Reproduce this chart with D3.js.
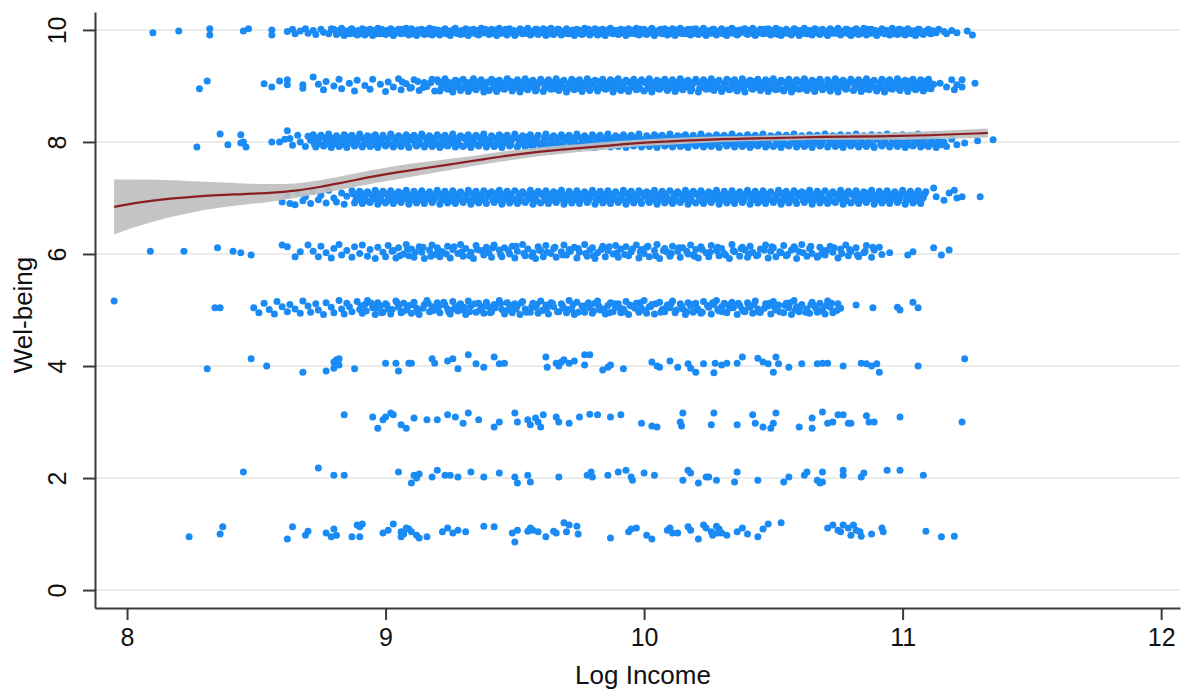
<!DOCTYPE html>
<html>
<head>
<meta charset="utf-8">
<script src="https://cdn.jsdelivr.net/npm/d3@7"></script>
<style>
  html, body { margin: 0; padding: 0; background: #ffffff; }
  svg { display: block; }
  text { font-family: "Liberation Sans", Arial, Helvetica, sans-serif; fill: #111; }
</style>
</head>
<body>
<svg id="chart" width="1183" height="689"></svg>
<script>
// ---------- DATA (log income, well-being with jitter) ----------
const xTicks = [8, 9, 10, 11, 12];
const yTicks = [0, 2, 4, 6, 8, 10];
const xLabel = "Log Income";
const yLabel = "Wel-being";

const wb10 = [8.10,9.95,8.20,9.98,8.32,10.02,8.32,9.91,8.45,9.98,8.47,10.02,8.56,10.0,8.56,9.91,
8.62,9.97,8.64,10.01,8.65,9.93,8.67,9.98,8.69,10.02,8.70,9.94,8.72,9.99,8.73,9.92,8.75,10.01,8.76,9.96,8.78,9.93,8.79,10.02,
8.80,10.01,8.81,9.92,8.82,9.96,8.83,10.03,8.84,9.90,8.85,9.97,8.86,9.93,8.87,10.02,8.88,9.95,8.89,9.91,
8.90,9.97,8.91,10.02,8.92,9.91,8.93,9.95,8.94,10.01,8.95,9.90,8.96,9.98,8.97,10.03,8.98,9.93,8.99,9.96,
9.00,9.92,9.01,9.99,9.02,10.02,9.03,9.90,9.04,9.95,9.05,10.01,9.06,9.93,9.07,9.97,9.08,10.03,9.09,9.91,
9.10,10.02,9.11,9.94,9.12,9.90,9.13,9.98,9.14,10.01,9.15,9.92,9.16,9.96,9.17,10.03,9.18,9.91,9.19,9.95,
9.20,10.00,9.21,9.91,9.22,9.97,9.23,10.02,9.24,9.93,9.25,9.90,9.26,9.99,9.27,10.03,9.28,9.94,9.29,9.92,
9.30,9.96,9.31,10.02,9.32,9.90,9.33,9.97,9.34,10.01,9.35,9.93,9.36,9.91,9.37,10.03,9.38,9.95,9.39,9.98,
9.40,9.92,9.41,10.01,9.42,9.96,9.43,9.90,9.44,10.03,9.45,9.94,9.46,9.98,9.47,9.91,9.48,10.02,9.49,9.95,
9.50,9.90,9.51,9.97,9.52,10.02,9.53,9.93,9.54,9.99,9.55,10.03,9.56,9.91,9.57,9.95,9.58,10.01,9.59,9.92,
9.60,9.97,9.61,10.02,9.62,9.90,9.63,9.96,9.64,10.03,9.65,9.92,9.66,9.98,9.67,10.01,9.68,9.91,9.69,9.94,
9.70,10.02,9.71,9.93,9.72,9.97,9.73,9.90,9.74,10.01,9.75,9.95,9.76,9.92,9.77,10.03,9.78,9.96,9.79,9.91,
9.80,9.98,9.81,10.02,9.82,9.91,9.83,9.95,9.84,10.01,9.85,9.90,9.86,9.97,9.87,10.03,9.88,9.93,9.89,9.99,
9.90,9.92,9.91,10.01,9.92,9.96,9.93,9.90,9.94,10.02,9.95,9.94,9.96,9.98,9.97,10.03,9.98,9.91,9.99,9.96,
10.00,10.01,10.01,9.92,10.02,9.97,10.03,10.03,10.04,9.90,10.05,9.95,10.06,10.00,10.07,9.93,10.08,10.02,10.09,9.91,
10.10,9.96,10.11,10.02,10.12,9.90,10.13,9.98,10.14,10.03,10.15,9.93,10.16,9.95,10.17,10.01,10.18,9.91,10.19,9.97,
10.20,10.02,10.21,9.92,10.22,9.96,10.23,10.03,10.24,9.90,10.25,9.98,10.26,9.94,10.27,10.01,10.28,9.91,10.29,9.96,
10.30,10.02,10.31,9.93,10.32,9.90,10.33,9.97,10.34,10.03,10.35,9.95,10.36,9.91,10.37,10.00,10.38,9.96,10.39,10.02,
10.40,9.92,10.41,9.98,10.42,10.03,10.43,9.90,10.44,9.95,10.45,10.01,10.46,9.93,10.47,9.97,10.48,10.02,10.49,9.91,
10.50,9.96,10.51,10.03,10.52,9.92,10.53,9.90,10.54,9.98,10.55,10.01,10.56,9.94,10.57,9.91,10.58,10.02,10.59,9.96,
10.60,9.90,10.61,9.97,10.62,10.03,10.63,9.93,10.64,9.99,10.65,9.91,10.66,10.02,10.67,9.95,10.68,9.92,10.69,10.01,
10.70,9.96,10.71,9.90,10.72,10.02,10.73,9.94,10.74,9.98,10.75,10.03,10.76,9.91,10.77,9.96,10.78,10.01,10.79,9.93,
10.80,9.90,10.81,9.97,10.82,10.02,10.83,9.92,10.84,9.95,10.85,10.03,10.86,9.91,10.87,9.98,10.88,10.01,10.89,9.94,
10.90,9.90,10.91,9.96,10.92,10.02,10.93,9.93,10.94,9.99,10.95,9.91,10.96,10.03,10.97,9.95,10.98,9.92,10.99,10.01,
11.00,9.97,11.01,9.91,11.02,10.02,11.03,9.94,11.04,9.98,11.05,9.90,11.06,10.01,11.07,9.95,11.08,9.92,11.09,9.97,
11.10,10.01,11.11,9.93,11.12,9.98,11.13,9.95,11.14,10.01,11.16,9.97,11.17,9.93,11.19,9.99,11.21,9.95,11.25,9.98,11.27,9.91];

const wb10b = [8.805,9.99,8.815,9.94,8.825,10.00,8.835,9.93,8.845,9.98,8.855,9.95,8.865,10.01,8.875,9.94,8.885,9.97,8.895,9.99,
8.905,9.93,8.915,9.98,8.925,10.00,8.935,9.95,8.945,9.94,8.955,9.99,8.965,9.93,8.975,9.97,8.985,10.01,8.995,9.94,
9.005,9.99,9.015,9.94,9.025,10.00,9.035,9.93,9.045,9.98,9.055,9.95,9.065,10.01,9.075,9.94,9.085,9.97,9.095,9.99,
9.105,9.93,9.115,9.98,9.125,10.00,9.135,9.95,9.145,9.94,9.155,9.99,9.165,9.93,9.175,9.97,9.185,10.01,9.195,9.94,
9.205,9.99,9.215,9.94,9.225,10.00,9.235,9.93,9.245,9.98,9.255,9.95,9.265,10.01,9.275,9.94,9.285,9.97,9.295,9.99,
9.305,9.93,9.315,9.98,9.325,10.00,9.335,9.95,9.345,9.94,9.355,9.99,9.365,9.93,9.375,9.97,9.385,10.01,9.395,9.94,
9.405,9.99,9.415,9.94,9.425,10.00,9.435,9.93,9.445,9.98,9.455,9.95,9.465,10.01,9.475,9.94,9.485,9.97,9.495,9.99,
9.505,9.93,9.515,9.98,9.525,10.00,9.535,9.95,9.545,9.94,9.555,9.99,9.565,9.93,9.575,9.97,9.585,10.01,9.595,9.94,
9.605,9.99,9.615,9.94,9.625,10.00,9.635,9.93,9.645,9.98,9.655,9.95,9.665,10.01,9.675,9.94,9.685,9.97,9.695,9.99,
9.705,9.93,9.715,9.98,9.725,10.00,9.735,9.95,9.745,9.94,9.755,9.99,9.765,9.93,9.775,9.97,9.785,10.01,9.795,9.94,
9.805,9.99,9.815,9.94,9.825,10.00,9.835,9.93,9.845,9.98,9.855,9.95,9.865,10.01,9.875,9.94,9.885,9.97,9.895,9.99,
9.905,9.93,9.915,9.98,9.925,10.00,9.935,9.95,9.945,9.94,9.955,9.99,9.965,9.93,9.975,9.97,9.985,10.01,9.995,9.94,
10.005,9.99,10.015,9.94,10.025,10.00,10.035,9.93,10.045,9.98,10.055,9.95,10.065,10.01,10.075,9.94,10.085,9.97,10.095,9.99,
10.105,9.93,10.115,9.98,10.125,10.00,10.135,9.95,10.145,9.94,10.155,9.99,10.165,9.93,10.175,9.97,10.185,10.01,10.195,9.94,
10.205,9.99,10.215,9.94,10.225,10.00,10.235,9.93,10.245,9.98,10.255,9.95,10.265,10.01,10.275,9.94,10.285,9.97,10.295,9.99,
10.305,9.93,10.315,9.98,10.325,10.00,10.335,9.95,10.345,9.94,10.355,9.99,10.365,9.93,10.375,9.97,10.385,10.01,10.395,9.94,
10.405,9.99,10.415,9.94,10.425,10.00,10.435,9.93,10.445,9.98,10.455,9.95,10.465,10.01,10.475,9.94,10.485,9.97,10.495,9.99,
10.505,9.93,10.515,9.98,10.525,10.00,10.535,9.95,10.545,9.94,10.555,9.99,10.565,9.93,10.575,9.97,10.585,10.01,10.595,9.94,
10.605,9.99,10.615,9.94,10.625,10.00,10.635,9.93,10.645,9.98,10.655,9.95,10.665,10.01,10.675,9.94,10.685,9.97,10.695,9.99,
10.705,9.93,10.715,9.98,10.725,10.00,10.735,9.95,10.745,9.94,10.755,9.99,10.765,9.93,10.775,9.97,10.785,10.01,10.795,9.94,
10.805,9.99,10.815,9.94,10.825,10.00,10.835,9.93,10.845,9.98,10.855,9.95,10.865,10.01,10.875,9.94,10.885,9.97,10.895,9.99,
10.905,9.93,10.915,9.98,10.925,10.00,10.935,9.95,10.945,9.94,10.955,9.99,10.965,9.93,10.975,9.97,10.985,10.01,10.995,9.94,
11.005,9.99,11.015,9.94,11.025,10.00,11.035,9.93,11.045,9.98,11.055,9.95,11.065,10.01,11.075,9.94,11.085,9.97,11.095,9.99,
11.105,9.94,11.115,9.98];

const wb9 = [8.28,8.95,8.31,9.09,8.53,9.04,8.56,8.98,8.59,9.09,8.62,9.11,8.62,9.02,8.68,8.96,8.68,9.02,8.72,9.16,
8.74,9.03,8.76,8.93,8.77,9.08,8.80,9.00,8.82,9.12,8.83,8.95,8.86,9.05,8.88,8.91,8.89,9.10,8.92,9.01,8.94,8.94,8.95,9.12,
8.98,9.03,9.00,8.90,9.01,9.07,9.03,8.98,9.05,9.13,9.06,8.93,9.08,9.04,9.10,8.97,9.11,9.11,9.13,8.92,9.15,9.06,9.16,8.99,9.18,9.12,9.19,8.91,
9.20,9.11,9.21,8.91,9.22,9.02,9.23,9.13,9.24,8.94,9.25,9.04,9.26,8.89,9.27,9.10,9.28,9.00,9.29,8.92,
9.30,9.12,9.31,9.03,9.32,8.90,9.33,9.05,9.34,9.13,9.35,8.93,9.36,9.01,9.37,9.11,9.38,8.89,9.39,9.04,
9.40,8.92,9.41,9.12,9.42,9.00,9.43,8.90,9.44,9.10,9.45,9.03,9.46,8.94,9.47,9.13,9.48,9.01,9.49,8.91,
9.50,9.05,9.51,9.11,9.52,8.89,9.53,9.02,9.54,9.13,9.55,8.93,9.56,9.00,9.57,9.10,9.58,8.91,9.59,9.04,
9.60,9.12,9.61,8.90,9.62,9.03,9.63,9.11,9.64,8.94,9.65,9.01,9.66,9.13,9.67,8.92,9.68,9.05,9.69,9.10,
9.70,8.89,9.71,9.02,9.72,9.12,9.73,8.93,9.74,9.00,9.75,9.11,9.76,8.90,9.77,9.04,9.78,9.13,9.79,8.92,
9.80,9.03,9.81,9.10,9.82,8.91,9.83,9.05,9.84,9.12,9.85,8.94,9.86,9.01,9.87,9.11,9.88,8.89,9.89,9.02,
9.90,9.13,9.91,8.92,9.92,9.04,9.93,9.10,9.94,8.90,9.95,9.00,9.96,9.12,9.97,8.93,9.98,9.03,9.99,9.11,
10.00,8.91,10.01,9.05,10.02,9.13,10.03,8.89,10.04,9.01,10.05,9.10,10.06,8.94,10.07,9.02,10.08,9.12,10.09,8.92,
10.10,9.04,10.11,9.11,10.12,8.90,10.13,9.00,10.14,9.13,10.15,8.93,10.16,9.03,10.17,9.10,10.18,8.91,10.19,9.05,
10.20,9.12,10.21,8.89,10.22,9.01,10.23,9.11,10.24,8.94,10.25,9.02,10.26,9.13,10.27,8.92,10.28,9.04,10.29,9.10,
10.30,8.90,10.31,9.03,10.32,9.12,10.33,8.93,10.34,9.00,10.35,9.11,10.36,8.91,10.37,9.05,10.38,9.13,10.39,8.89,
10.40,9.02,10.41,9.10,10.42,8.94,10.43,9.04,10.44,9.12,10.45,8.92,10.46,9.01,10.47,9.11,10.48,8.90,10.49,9.03,
10.50,9.13,10.51,8.93,10.52,9.00,10.53,9.10,10.54,8.91,10.55,9.05,10.56,9.12,10.57,8.89,10.58,9.02,10.59,9.11,
10.60,8.94,10.61,9.04,10.62,9.13,10.63,8.92,10.64,9.01,10.65,9.10,10.66,8.90,10.67,9.03,10.68,9.12,10.69,8.93,
10.70,9.00,10.71,9.11,10.72,8.91,10.73,9.05,10.74,9.13,10.75,8.89,10.76,9.02,10.77,9.10,10.78,8.94,10.79,9.04,
10.80,9.12,10.81,8.92,10.82,9.01,10.83,9.11,10.84,8.90,10.85,9.03,10.86,9.13,10.87,8.93,10.88,9.00,10.89,9.10,
10.90,8.91,10.91,9.05,10.92,9.12,10.93,8.89,10.94,9.02,10.95,9.11,10.96,8.94,10.97,9.04,10.98,9.13,10.99,8.92,
11.00,9.01,11.01,9.10,11.02,8.90,11.03,9.03,11.04,9.12,11.05,8.93,11.06,9.00,11.07,9.11,11.08,8.91,11.09,9.05,
11.10,9.12,11.11,8.95,11.12,9.03,11.145,9.05,11.17,8.98,11.19,9.11,11.20,8.93,11.21,9.02,11.23,8.98,11.23,9.11,11.28,9.05];

const wb9b = [9.065,9.07,9.095,8.96,9.125,9.08,9.145,8.97,9.175,9.06,
9.205,9.07,9.215,8.96,9.225,9.08,9.235,8.97,9.245,9.06,9.255,8.95,9.265,9.07,9.275,8.98,9.285,9.08,9.295,8.96,
9.305,8.97,9.315,9.06,9.325,8.95,9.335,9.08,9.345,8.96,9.355,9.07,9.365,8.98,9.375,9.06,9.385,8.95,9.395,9.07,
9.405,9.07,9.415,8.96,9.425,9.08,9.435,8.97,9.445,9.06,9.455,8.95,9.465,9.07,9.475,8.98,9.485,9.08,9.495,8.96,
9.505,8.97,9.515,9.06,9.525,8.95,9.535,9.08,9.545,8.96,9.555,9.07,9.565,8.98,9.575,9.06,9.585,8.95,9.595,9.07,
9.605,9.07,9.615,8.96,9.625,9.08,9.635,8.97,9.645,9.06,9.655,8.95,9.665,9.07,9.675,8.98,9.685,9.08,9.695,8.96,
9.705,8.97,9.715,9.06,9.725,8.95,9.735,9.08,9.745,8.96,9.755,9.07,9.765,8.98,9.775,9.06,9.785,8.95,9.795,9.07,
9.805,9.07,9.815,8.96,9.825,9.08,9.835,8.97,9.845,9.06,9.855,8.95,9.865,9.07,9.875,8.98,9.885,9.08,9.895,8.96,
9.905,8.97,9.915,9.06,9.925,8.95,9.935,9.08,9.945,8.96,9.955,9.07,9.965,8.98,9.975,9.06,9.985,8.95,9.995,9.07,
10.005,9.07,10.015,8.96,10.025,9.08,10.035,8.97,10.045,9.06,10.055,8.95,10.065,9.07,10.075,8.98,10.085,9.08,10.095,8.96,
10.105,8.97,10.115,9.06,10.125,8.95,10.135,9.08,10.145,8.96,10.155,9.07,10.165,8.98,10.175,9.06,10.185,8.95,10.195,9.07,
10.205,9.07,10.215,8.96,10.225,9.08,10.235,8.97,10.245,9.06,10.255,8.95,10.265,9.07,10.275,8.98,10.285,9.08,10.295,8.96,
10.305,8.97,10.315,9.06,10.325,8.95,10.335,9.08,10.345,8.96,10.355,9.07,10.365,8.98,10.375,9.06,10.385,8.95,10.395,9.07,
10.405,9.07,10.415,8.96,10.425,9.08,10.435,8.97,10.445,9.06,10.455,8.95,10.465,9.07,10.475,8.98,10.485,9.08,10.495,8.96,
10.505,8.97,10.515,9.06,10.525,8.95,10.535,9.08,10.545,8.96,10.555,9.07,10.565,8.98,10.575,9.06,10.585,8.95,10.595,9.07,
10.605,9.07,10.615,8.96,10.625,9.08,10.635,8.97,10.645,9.06,10.655,8.95,10.665,9.07,10.675,8.98,10.685,9.08,10.695,8.96,
10.705,8.97,10.715,9.06,10.725,8.95,10.735,9.08,10.745,8.96,10.755,9.07,10.765,8.98,10.775,9.06,10.785,8.95,10.795,9.07,
10.805,9.07,10.815,8.96,10.825,9.08,10.835,8.97,10.845,9.06,10.855,8.95,10.865,9.07,10.875,8.98,10.885,9.08,10.895,8.96,
10.905,8.97,10.915,9.06,10.925,8.95,10.935,9.08,10.945,8.96,10.955,9.07,10.965,8.98,10.975,9.06,10.985,8.95,10.995,9.07,
11.005,9.07,11.015,8.96,11.025,9.08,11.035,8.97,11.045,9.06,11.055,8.95,11.065,9.07,11.075,8.98,11.085,9.08,11.095,8.96,
11.105,9.06];

const wb8 = [8.27,7.91,8.36,8.14,8.39,7.95,8.44,8.13,8.45,8.00,8.46,7.91,8.44,7.98,8.56,8.00,8.59,8.00,8.61,8.05,8.62,8.20,
8.63,8.06,8.64,7.94,8.66,8.12,8.67,8.00,8.69,7.92,8.70,8.10,
8.71,8.03,8.72,8.13,8.73,7.91,8.74,8.05,8.75,8.12,8.76,7.93,8.77,8.01,8.78,8.14,8.79,7.90,
8.80,8.04,8.81,8.11,8.82,7.92,8.83,8.02,8.84,8.13,8.85,7.90,8.86,8.05,8.87,8.12,8.88,7.93,8.89,8.00,
8.90,8.14,8.91,7.91,8.92,8.03,8.93,8.11,8.94,7.92,8.95,8.04,8.96,8.13,8.97,7.90,8.98,8.01,8.99,8.12,
9.00,7.93,9.01,8.05,9.02,8.14,9.03,7.91,9.04,8.02,9.05,8.11,9.06,7.92,9.07,8.03,9.08,8.13,9.09,7.90,
9.10,8.04,9.11,8.12,9.12,7.93,9.13,8.00,9.14,8.14,9.15,7.91,9.16,8.05,9.17,8.11,9.18,7.92,9.19,8.02,
9.20,8.13,9.21,7.90,9.22,8.03,9.23,8.12,9.24,7.93,9.25,8.01,9.26,8.14,9.27,7.91,9.28,8.04,9.29,8.11,
9.30,7.92,9.31,8.05,9.32,8.13,9.33,7.90,9.34,8.02,9.35,8.12,9.36,7.93,9.37,8.00,9.38,8.14,9.39,7.91,
9.40,8.03,9.41,8.11,9.42,7.92,9.43,8.04,9.44,8.13,9.45,7.90,9.46,8.01,9.47,8.12,9.48,7.93,9.49,8.05,
9.50,8.14,9.51,7.91,9.52,8.02,9.53,8.11,9.54,7.92,9.55,8.03,9.56,8.13,9.57,7.90,9.58,8.04,9.59,8.12,
9.60,7.93,9.61,8.00,9.62,8.14,9.63,7.91,9.64,8.05,9.65,8.11,9.66,7.92,9.67,8.02,9.68,8.13,9.69,7.90,
9.70,8.03,9.71,8.12,9.72,7.93,9.73,8.01,9.74,8.14,9.75,7.91,9.76,8.04,9.77,8.11,9.78,7.92,9.79,8.05,
9.80,8.13,9.81,7.90,9.82,8.02,9.83,8.12,9.84,7.93,9.85,8.03,9.86,8.14,9.87,7.91,9.88,8.00,9.89,8.11,
9.90,7.92,9.91,8.04,9.92,8.13,9.93,7.90,9.94,8.01,9.95,8.12,9.96,7.93,9.97,8.05,9.98,8.14,9.99,7.91,
10.00,8.02,10.01,8.11,10.02,7.92,10.03,8.03,10.04,8.13,10.05,7.90,10.06,8.04,10.07,8.12,10.08,7.93,10.09,8.00,
10.10,8.14,10.11,7.91,10.12,8.05,10.13,8.11,10.14,7.92,10.15,8.02,10.16,8.13,10.17,7.90,10.18,8.03,10.19,8.12,
10.20,7.93,10.21,8.01,10.22,8.14,10.23,7.91,10.24,8.04,10.25,8.11,10.26,7.92,10.27,8.05,10.28,8.13,10.29,7.90,
10.30,8.02,10.31,8.12,10.32,7.93,10.33,8.03,10.34,8.14,10.35,7.91,10.36,8.00,10.37,8.11,10.38,7.92,10.39,8.04,
10.40,8.13,10.41,7.90,10.42,8.05,10.43,8.12,10.44,7.93,10.45,8.01,10.46,8.14,10.47,7.91,10.48,8.02,10.49,8.11,
10.50,7.92,10.51,8.03,10.52,8.13,10.53,7.90,10.54,8.04,10.55,8.12,10.56,7.93,10.57,8.00,10.58,8.14,10.59,7.91,
10.60,8.05,10.61,8.11,10.62,7.92,10.63,8.02,10.64,8.13,10.65,7.90,10.66,8.03,10.67,8.12,10.68,7.93,10.69,8.01,
10.70,8.14,10.71,7.91,10.72,8.04,10.73,8.11,10.74,7.92,10.75,8.05,10.76,8.13,10.77,7.90,10.78,8.02,10.79,8.12,
10.80,7.93,10.81,8.03,10.82,8.14,10.83,7.91,10.84,8.00,10.85,8.11,10.86,7.92,10.87,8.04,10.88,8.13,10.89,7.90,
10.90,8.05,10.91,8.12,10.92,7.93,10.93,8.01,10.94,8.14,10.95,7.91,10.96,8.02,10.97,8.11,10.98,7.92,10.99,8.03,
11.00,8.13,11.01,7.90,11.02,8.04,11.03,8.12,11.04,7.93,11.05,8.00,11.06,8.14,11.07,7.91,11.08,8.05,11.09,8.11,
11.10,7.92,11.11,8.02,11.12,8.13,11.13,7.90,11.14,8.03,11.15,7.95,11.16,8.00,11.17,7.92,11.19,8.05,11.21,7.95,
11.24,7.98,11.29,8.02,11.35,8.04];

const wb8b = [8.715,8.08,8.725,7.96,8.735,8.07,8.745,7.97,8.755,8.09,8.765,7.95,8.775,8.08,8.785,7.98,8.795,8.06,
8.805,7.97,8.815,8.08,8.825,7.95,8.835,8.07,8.845,7.96,8.855,8.09,8.865,7.98,8.875,8.06,8.885,7.95,8.895,8.08,
8.905,8.08,8.915,7.96,8.925,8.07,8.935,7.97,8.945,8.09,8.955,7.95,8.965,8.08,8.975,7.98,8.985,8.06,8.995,7.96,
9.005,7.97,9.015,8.08,9.025,7.95,9.035,8.07,9.045,7.96,9.055,8.09,9.065,7.98,9.075,8.06,9.085,7.95,9.095,8.08,
9.105,8.08,9.115,7.96,9.125,8.07,9.135,7.97,9.145,8.09,9.155,7.95,9.165,8.08,9.175,7.98,9.185,8.06,9.195,7.96,
9.205,7.97,9.215,8.08,9.225,7.95,9.235,8.07,9.245,7.96,9.255,8.09,9.265,7.98,9.275,8.06,9.285,7.95,9.295,8.08,
9.305,8.08,9.315,7.96,9.325,8.07,9.335,7.97,9.345,8.09,9.355,7.95,9.365,8.08,9.375,7.98,9.385,8.06,9.395,7.96,
9.405,7.97,9.415,8.08,9.425,7.95,9.435,8.07,9.445,7.96,9.455,8.09,9.465,7.98,9.475,8.06,9.485,7.95,9.495,8.08,
9.505,8.08,9.515,7.96,9.525,8.07,9.535,7.97,9.545,8.09,9.555,7.95,9.565,8.08,9.575,7.98,9.585,8.06,9.595,7.96,
9.605,7.97,9.615,8.08,9.625,7.95,9.635,8.07,9.645,7.96,9.655,8.09,9.665,7.98,9.675,8.06,9.685,7.95,9.695,8.08,
9.705,8.08,9.715,7.96,9.725,8.07,9.735,7.97,9.745,8.09,9.755,7.95,9.765,8.08,9.775,7.98,9.785,8.06,9.795,7.96,
9.805,7.97,9.815,8.08,9.825,7.95,9.835,8.07,9.845,7.96,9.855,8.09,9.865,7.98,9.875,8.06,9.885,7.95,9.895,8.08,
9.905,8.08,9.915,7.96,9.925,8.07,9.935,7.97,9.945,8.09,9.955,7.95,9.965,8.08,9.975,7.98,9.985,8.06,9.995,7.96,
10.005,7.97,10.015,8.08,10.025,7.95,10.035,8.07,10.045,7.96,10.055,8.09,10.065,7.98,10.075,8.06,10.085,7.95,10.095,8.08,
10.105,8.08,10.115,7.96,10.125,8.07,10.135,7.97,10.145,8.09,10.155,7.95,10.165,8.08,10.175,7.98,10.185,8.06,10.195,7.96,
10.205,7.97,10.215,8.08,10.225,7.95,10.235,8.07,10.245,7.96,10.255,8.09,10.265,7.98,10.275,8.06,10.285,7.95,10.295,8.08,
10.305,8.08,10.315,7.96,10.325,8.07,10.335,7.97,10.345,8.09,10.355,7.95,10.365,8.08,10.375,7.98,10.385,8.06,10.395,7.96,
10.405,7.97,10.415,8.08,10.425,7.95,10.435,8.07,10.445,7.96,10.455,8.09,10.465,7.98,10.475,8.06,10.485,7.95,10.495,8.08,
10.505,8.08,10.515,7.96,10.525,8.07,10.535,7.97,10.545,8.09,10.555,7.95,10.565,8.08,10.575,7.98,10.585,8.06,10.595,7.96,
10.605,7.97,10.615,8.08,10.625,7.95,10.635,8.07,10.645,7.96,10.655,8.09,10.665,7.98,10.675,8.06,10.685,7.95,10.695,8.08,
10.705,8.08,10.715,7.96,10.725,8.07,10.735,7.97,10.745,8.09,10.755,7.95,10.765,8.08,10.775,7.98,10.785,8.06,10.795,7.96,
10.805,7.97,10.815,8.08,10.825,7.95,10.835,8.07,10.845,7.96,10.855,8.09,10.865,7.98,10.875,8.06,10.885,7.95,10.895,8.08,
10.905,8.08,10.915,7.96,10.925,8.07,10.935,7.97,10.945,8.09,10.955,7.95,10.965,8.08,10.975,7.98,10.985,8.06,10.995,7.96,
11.005,7.97,11.015,8.08,11.025,7.95,11.035,8.07,11.045,7.96,11.055,8.09,11.065,7.98,11.075,8.06,11.085,7.95,11.095,8.08,
11.105,7.97,11.115,8.07,11.125,7.96];

const wb7 = [8.60,6.93,8.62,7.05,8.63,6.90,8.65,6.88,8.66,7.10,8.68,6.95,8.69,7.02,8.71,6.90,8.72,7.12,8.74,6.97,
8.75,7.05,8.77,6.91,8.78,7.14,8.80,7.00,8.81,6.93,8.83,7.09,8.84,6.89,8.85,7.03,8.87,7.13,8.88,6.91,8.89,7.02,
8.90,7.12,8.91,6.90,8.92,7.04,8.93,7.11,8.94,6.92,8.95,7.01,8.96,7.14,8.97,6.89,8.98,7.03,8.99,7.12,
9.00,6.91,9.01,7.00,9.02,7.13,9.03,6.90,9.04,7.04,9.05,7.11,9.06,6.92,9.07,7.02,9.08,7.14,9.09,6.89,
9.10,7.03,9.11,7.12,9.12,6.91,9.13,7.01,9.14,7.13,9.15,6.90,9.16,7.04,9.17,7.11,9.18,6.92,9.19,7.00,
9.20,7.14,9.21,6.89,9.22,7.02,9.23,7.12,9.24,6.91,9.25,7.03,9.26,7.13,9.27,6.90,9.28,7.01,9.29,7.11,
9.30,6.92,9.31,7.04,9.32,7.14,9.33,6.89,9.34,7.00,9.35,7.12,9.36,6.91,9.37,7.02,9.38,7.13,9.39,6.90,
9.40,7.03,9.41,7.11,9.42,6.92,9.43,7.01,9.44,7.14,9.45,6.89,9.46,7.04,9.47,7.12,9.48,6.91,9.49,7.00,
9.50,7.13,9.51,6.90,9.52,7.02,9.53,7.11,9.54,6.92,9.55,7.03,9.56,7.14,9.57,6.89,9.58,7.01,9.59,7.12,
9.60,6.91,9.61,7.04,9.62,7.13,9.63,6.90,9.64,7.00,9.65,7.11,9.66,6.92,9.67,7.02,9.68,7.14,9.69,6.89,
9.70,7.03,9.71,7.12,9.72,6.91,9.73,7.01,9.74,7.13,9.75,6.90,9.76,7.04,9.77,7.11,9.78,6.92,9.79,7.00,
9.80,7.14,9.81,6.89,9.82,7.02,9.83,7.12,9.84,6.91,9.85,7.03,9.86,7.13,9.87,6.90,9.88,7.01,9.89,7.11,
9.90,6.92,9.91,7.04,9.92,7.14,9.93,6.89,9.94,7.00,9.95,7.12,9.96,6.91,9.97,7.02,9.98,7.13,9.99,6.90,
10.00,7.03,10.01,7.11,10.02,6.92,10.03,7.01,10.04,7.14,10.05,6.89,10.06,7.04,10.07,7.12,10.08,6.91,10.09,7.00,
10.10,7.13,10.11,6.90,10.12,7.02,10.13,7.11,10.14,6.92,10.15,7.03,10.16,7.14,10.17,6.89,10.18,7.01,10.19,7.12,
10.20,6.91,10.21,7.04,10.22,7.13,10.23,6.90,10.24,7.00,10.25,7.11,10.26,6.92,10.27,7.02,10.28,7.14,10.29,6.89,
10.30,7.03,10.31,7.12,10.32,6.91,10.33,7.01,10.34,7.13,10.35,6.90,10.36,7.04,10.37,7.11,10.38,6.92,10.39,7.00,
10.40,7.14,10.41,6.89,10.42,7.02,10.43,7.12,10.44,6.91,10.45,7.03,10.46,7.13,10.47,6.90,10.48,7.01,10.49,7.11,
10.50,6.92,10.51,7.04,10.52,7.14,10.53,6.89,10.54,7.00,10.55,7.12,10.56,6.91,10.57,7.02,10.58,7.13,10.59,6.90,
10.60,7.03,10.61,7.11,10.62,6.92,10.63,7.01,10.64,7.14,10.65,6.89,10.66,7.04,10.67,7.12,10.68,6.91,10.69,7.00,
10.70,7.13,10.71,6.90,10.72,7.02,10.73,7.11,10.74,6.92,10.75,7.03,10.76,7.14,10.77,6.89,10.78,7.01,10.79,7.12,
10.80,6.91,10.81,7.04,10.82,7.13,10.83,6.90,10.84,7.00,10.85,7.11,10.86,6.92,10.87,7.02,10.88,7.14,10.89,6.89,
10.90,7.03,10.91,7.12,10.92,6.91,10.93,7.01,10.94,7.13,10.95,6.90,10.96,7.04,10.97,7.11,10.98,6.92,10.99,7.00,
11.00,7.14,11.01,6.89,11.02,7.02,11.03,7.12,11.04,6.91,11.05,7.03,11.06,7.13,11.07,6.90,11.08,7.01,11.09,7.11,
11.12,7.18,11.13,7.02,11.16,6.96,11.18,7.09,11.20,7.14,11.21,7.00,11.23,7.02,11.30,7.02];

const wb7b = [8.875,7.07,8.885,6.96,8.895,7.08,
8.905,6.97,8.915,7.07,8.925,6.95,8.935,7.08,8.945,6.96,8.955,7.06,8.965,6.98,8.975,7.07,8.985,6.95,8.995,7.08,
9.005,7.07,9.015,6.96,9.025,7.08,9.035,6.97,9.045,7.06,9.055,6.95,9.065,7.08,9.075,6.98,9.085,7.07,9.095,6.96,
9.105,6.97,9.115,7.07,9.125,6.95,9.135,7.08,9.145,6.96,9.155,7.06,9.165,6.98,9.175,7.07,9.185,6.95,9.195,7.08,
9.205,7.07,9.215,6.96,9.225,7.08,9.235,6.97,9.245,7.06,9.255,6.95,9.265,7.08,9.275,6.98,9.285,7.07,9.295,6.96,
9.305,6.97,9.315,7.07,9.325,6.95,9.335,7.08,9.345,6.96,9.355,7.06,9.365,6.98,9.375,7.07,9.385,6.95,9.395,7.08,
9.405,7.07,9.415,6.96,9.425,7.08,9.435,6.97,9.445,7.06,9.455,6.95,9.465,7.08,9.475,6.98,9.485,7.07,9.495,6.96,
9.505,6.97,9.515,7.07,9.525,6.95,9.535,7.08,9.545,6.96,9.555,7.06,9.565,6.98,9.575,7.07,9.585,6.95,9.595,7.08,
9.605,7.07,9.615,6.96,9.625,7.08,9.635,6.97,9.645,7.06,9.655,6.95,9.665,7.08,9.675,6.98,9.685,7.07,9.695,6.96,
9.705,6.97,9.715,7.07,9.725,6.95,9.735,7.08,9.745,6.96,9.755,7.06,9.765,6.98,9.775,7.07,9.785,6.95,9.795,7.08,
9.805,7.07,9.815,6.96,9.825,7.08,9.835,6.97,9.845,7.06,9.855,6.95,9.865,7.08,9.875,6.98,9.885,7.07,9.895,6.96,
9.905,6.97,9.915,7.07,9.925,6.95,9.935,7.08,9.945,6.96,9.955,7.06,9.965,6.98,9.975,7.07,9.985,6.95,9.995,7.08,
10.005,7.07,10.015,6.96,10.025,7.08,10.035,6.97,10.045,7.06,10.055,6.95,10.065,7.08,10.075,6.98,10.085,7.07,10.095,6.96,
10.105,6.97,10.115,7.07,10.125,6.95,10.135,7.08,10.145,6.96,10.155,7.06,10.165,6.98,10.175,7.07,10.185,6.95,10.195,7.08,
10.205,7.07,10.215,6.96,10.225,7.08,10.235,6.97,10.245,7.06,10.255,6.95,10.265,7.08,10.275,6.98,10.285,7.07,10.295,6.96,
10.305,6.97,10.315,7.07,10.325,6.95,10.335,7.08,10.345,6.96,10.355,7.06,10.365,6.98,10.375,7.07,10.385,6.95,10.395,7.08,
10.405,7.07,10.415,6.96,10.425,7.08,10.435,6.97,10.445,7.06,10.455,6.95,10.465,7.08,10.475,6.98,10.485,7.07,10.495,6.96,
10.505,6.97,10.515,7.07,10.525,6.95,10.535,7.08,10.545,6.96,10.555,7.06,10.565,6.98,10.575,7.07,10.585,6.95,10.595,7.08,
10.605,7.07,10.615,6.96,10.625,7.08,10.635,6.97,10.645,7.06,10.655,6.95,10.665,7.08,10.675,6.98,10.685,7.07,10.695,6.96,
10.705,6.97,10.715,7.07,10.725,6.95,10.735,7.08,10.745,6.96,10.755,7.06,10.765,6.98,10.775,7.07,10.785,6.95,10.795,7.08,
10.805,7.07,10.815,6.96,10.825,7.08,10.835,6.97,10.845,7.06,10.855,6.95,10.865,7.08,10.875,6.98,10.885,7.07,10.895,6.96,
10.905,6.97,10.915,7.07,10.925,6.95,10.935,7.08,10.945,6.96,10.955,7.06,10.965,6.98,10.975,7.07,10.985,6.95,10.995,7.08,
11.005,7.07,11.015,6.96,11.025,7.08,11.035,6.97,11.045,7.06,11.055,6.95,11.065,7.08,11.075,6.98,11.085,7.07];

const wb6 = [8.09,6.05,8.22,6.05,8.35,6.11,8.41,6.05,8.44,6.02,8.48,5.98,8.60,6.16,8.62,6.13,8.65,5.95,8.67,6.04,8.70,6.16,
8.72,6.05,8.74,5.95,8.75,6.14,8.77,6.02,8.79,5.93,8.80,6.10,8.82,6.17,8.83,5.98,8.85,6.06,8.87,5.94,8.88,6.13,8.90,6.01,
8.91,6.16,8.93,5.96,8.94,6.08,8.96,5.92,8.97,6.12,8.99,6.03,
9.00,5.95,9.01,6.15,9.03,6.06,9.04,5.93,9.05,6.11,9.07,6.00,9.08,6.17,9.09,5.97,
9.10,6.09,9.11,5.94,9.13,6.13,9.14,6.03,9.15,5.92,9.17,6.07,9.18,6.16,9.19,5.99,
9.20,6.11,9.21,5.95,9.22,6.04,9.24,6.14,9.25,5.93,9.26,6.08,9.28,6.01,9.29,6.17,
9.30,5.96,9.31,6.10,9.33,6.03,9.34,5.92,9.35,6.15,9.37,6.06,9.38,5.98,9.39,6.12,
9.40,6.02,9.41,5.94,9.42,6.16,9.44,6.07,9.45,5.95,9.46,6.11,9.48,6.00,9.49,6.14,
9.50,5.93,9.51,6.05,9.53,6.17,9.54,5.97,9.55,6.09,9.57,6.02,9.58,5.92,9.59,6.13,
9.60,6.06,9.61,5.95,9.62,6.15,9.64,6.01,9.65,6.10,9.66,5.94,9.68,6.04,9.69,6.16,
9.70,5.98,9.71,6.08,9.73,6.12,9.74,5.93,9.75,6.03,9.77,6.17,9.78,5.96,9.79,6.07,
9.80,6.11,9.81,5.92,9.82,6.02,9.84,6.14,9.85,5.95,9.86,6.06,9.88,6.00,9.89,6.15,
9.90,5.94,9.91,6.09,9.93,6.13,9.94,5.97,9.95,6.04,9.97,6.16,9.98,5.93,9.99,6.08,
10.00,6.01,10.01,6.12,10.02,5.95,10.04,6.06,10.05,6.17,10.06,5.92,10.08,6.10,10.09,6.03,
10.10,5.96,10.11,6.14,10.13,6.05,10.14,5.94,10.15,6.11,10.17,6.00,10.18,6.16,10.19,5.98,
10.20,6.08,10.21,5.93,10.22,6.13,10.24,6.02,10.25,5.95,10.26,6.15,10.28,6.06,10.29,5.97,
10.30,6.10,10.31,6.01,10.33,5.92,10.34,6.17,10.35,6.04,10.37,5.96,10.38,6.12,10.39,6.07,
10.40,5.94,10.41,6.14,10.42,6.03,10.44,5.98,10.45,6.09,10.47,6.16,10.48,5.93,10.49,6.05,
10.50,6.11,10.51,5.95,10.53,6.02,10.54,6.15,10.55,5.97,10.57,6.07,10.58,6.13,10.59,5.92,
10.60,6.04,10.61,6.17,10.63,5.96,10.64,6.10,10.65,6.01,10.67,5.94,10.68,6.12,10.69,6.06,
10.70,5.98,10.72,6.14,10.73,6.03,10.75,5.93,10.76,6.09,10.78,6.16,10.79,5.97,
10.80,6.05,10.82,6.11,10.83,5.95,10.85,6.02,10.86,6.15,10.88,5.94,10.89,6.07,10.91,6.12,10.92,5.99,
10.95,6.02,11.02,5.98,11.04,6.04,11.12,6.11,11.15,5.98,11.18,6.07];

const wb6b = [9.025,6.05,9.055,5.97,9.085,6.09,9.115,6.03,9.145,6.12,9.175,5.96,9.205,6.06,9.235,6.00,9.265,6.13,9.295,6.04,
9.325,5.97,9.355,6.08,9.385,6.02,9.415,6.11,9.445,5.99,9.475,6.06,9.505,6.14,9.535,6.01,9.565,5.96,9.595,6.07,
9.625,6.03,9.655,6.12,9.685,5.98,9.715,6.05,9.745,6.10,9.775,6.01,9.805,5.97,9.835,6.08,9.865,6.13,9.895,6.02,
9.925,5.99,9.955,6.09,9.985,6.04,10.015,6.14,10.045,5.97,10.075,6.06,10.105,6.01,10.135,6.11,10.165,6.05,10.195,5.96,
10.225,6.08,10.255,6.03,10.285,6.12,10.315,5.98,10.345,6.06,10.375,6.10,10.405,6.00,10.435,5.97,10.465,6.07,10.495,6.13,
10.525,6.04,10.555,5.99,10.585,6.09,10.615,6.02,10.645,6.14,10.675,5.97,10.705,6.06,10.735,6.11,10.765,6.01,10.795,6.08,
10.825,5.98,10.855,6.05,10.885,6.12];

const wb5 = [7.95,5.16,8.34,5.04,8.36,5.04,
8.49,5.04,8.51,4.95,8.53,5.12,8.55,5.01,8.57,4.93,8.58,5.15,8.60,5.06,8.62,4.97,8.63,5.10,8.65,5.02,8.67,4.94,
8.68,5.16,8.70,5.07,8.71,4.96,8.73,5.11,8.74,5.00,8.76,4.92,8.77,5.13,8.79,5.05,8.80,4.95,8.82,5.17,
8.83,5.02,8.84,4.93,8.85,5.12,8.86,5.06,8.87,4.97,8.89,5.15,
8.90,5.01,8.91,4.94,8.92,5.10,8.93,5.17,8.95,5.04,8.96,4.92,8.97,5.13,8.98,5.07,8.99,4.96,
9.00,5.11,9.01,5.02,9.02,4.93,9.04,5.16,9.05,5.05,9.06,4.95,9.07,5.12,9.08,5.00,9.09,5.08,
9.10,4.94,9.11,5.14,9.12,5.03,9.13,4.92,9.15,5.10,9.16,5.17,9.17,4.97,9.18,5.06,9.19,5.01,
9.20,5.13,9.21,4.95,9.23,5.09,9.24,5.02,9.25,4.93,9.26,5.15,9.27,5.05,9.28,4.98,9.29,5.11,
9.30,5.00,9.31,4.92,9.32,5.16,9.33,5.07,9.35,4.96,9.36,5.12,9.37,5.03,9.38,4.94,9.39,5.14,
9.40,5.06,9.41,4.97,9.42,5.10,9.44,5.17,9.45,5.01,9.46,4.93,9.47,5.13,9.48,5.04,9.49,4.95,
9.50,5.11,9.51,5.08,9.52,4.92,9.53,5.15,9.54,5.02,9.56,4.96,9.57,5.12,9.58,5.05,9.59,4.94,
9.60,5.16,9.61,5.00,9.62,5.09,9.63,4.93,9.64,5.13,9.65,5.06,9.67,4.97,9.68,5.11,9.69,5.03,
9.70,4.95,9.71,5.17,9.72,5.01,9.73,4.92,9.74,5.14,9.76,5.07,9.77,4.96,9.78,5.10,9.79,5.04,
9.80,4.94,9.81,5.12,9.82,5.16,9.83,5.00,9.85,4.93,9.86,5.08,9.87,5.13,9.88,4.97,9.89,5.05,
9.90,5.11,9.91,4.95,9.92,5.02,9.93,5.15,9.94,4.92,9.95,5.07,9.97,5.12,9.98,4.96,9.99,5.03,
10.00,5.17,10.01,4.94,10.02,5.06,10.03,5.10,10.04,4.93,10.06,5.14,10.07,5.01,10.08,4.97,10.09,5.09,
10.10,5.04,10.11,5.16,10.12,4.95,10.14,5.11,10.15,5.02,10.16,4.92,10.17,5.13,10.18,5.07,10.19,4.96,
10.20,5.12,10.21,5.00,10.22,4.94,10.23,5.15,10.25,5.05,10.26,4.93,10.27,5.10,10.28,5.17,10.29,4.98,
10.30,5.06,10.31,5.12,10.32,4.95,10.33,5.03,10.34,5.14,10.36,4.92,10.37,5.08,10.38,5.01,10.39,4.97,
10.40,5.13,10.41,5.05,10.42,4.94,10.43,5.16,10.44,5.02,10.45,4.96,10.47,5.11,10.48,5.07,10.49,4.93,
10.50,5.15,10.51,5.00,10.52,5.09,10.54,4.95,10.55,5.12,10.56,5.04,10.57,4.92,10.58,5.17,10.59,5.06,
10.60,4.97,10.61,5.10,10.63,5.02,10.64,4.94,10.65,5.14,10.66,5.07,10.67,4.96,10.68,5.12,10.69,5.01,
10.70,4.93,10.71,5.16,10.72,5.05,10.73,4.95,10.75,5.11,10.76,5.03,
10.82,5.09,10.885,5.04,10.98,5.05,10.99,5.00,11.04,5.14,11.06,5.04];

const wb5b = [8.905,5.07,8.925,4.98,8.945,5.12,8.965,5.03,8.985,4.95,9.005,5.09,9.025,5.01,9.045,5.13,9.065,4.97,9.085,5.05,
9.105,5.10,9.125,4.96,9.145,5.03,9.165,5.12,9.185,4.99,9.205,5.06,9.225,5.14,9.245,4.96,9.265,5.02,9.285,5.09,
9.305,5.05,9.325,4.97,9.345,5.11,9.365,5.00,9.385,5.07,9.405,4.95,9.425,5.04,9.445,5.12,9.465,4.98,9.485,5.08,
9.505,5.02,9.525,5.13,9.545,4.96,9.565,5.06,9.585,5.10,9.605,4.99,9.625,5.04,9.645,5.12,9.665,4.97,9.685,5.07,
9.705,5.01,9.725,5.10,9.745,4.96,9.765,5.05,9.785,5.13,9.805,4.98,9.825,5.07,9.845,5.02,9.865,4.95,9.885,5.11,
9.905,5.04,9.925,4.97,9.945,5.09,9.965,5.03,9.985,5.13,10.005,4.98,10.025,5.06,10.045,5.11,10.065,4.96,10.085,5.04,
10.105,5.12,10.125,5.00,10.145,5.07,10.165,4.97,10.185,5.10,10.205,5.03,10.225,4.96,10.245,5.08,10.265,5.13,10.285,5.01,
10.305,4.97,10.325,5.09,10.345,5.04,10.365,5.12,10.385,4.98,10.405,5.06,10.425,5.10,10.445,4.96,10.465,5.03,10.485,5.12,
10.505,5.05,10.525,4.97,10.545,5.08,10.565,5.13,10.585,5.00,10.605,5.06,10.625,4.96,10.645,5.10,10.665,5.03,10.685,4.98,
10.705,5.08,10.725,5.12,10.745,4.99];

const wb4 = [8.31,3.95,8.48,4.13,8.54,4.00,8.68,3.89,8.77,3.91,8.80,3.96,8.81,4.11,8.82,4.13,8.80,4.07,8.82,4.02,8.88,3.95,
9.00,4.05,9.04,4.05,9.05,3.91,9.09,4.05,9.10,4.05,9.18,4.13,9.19,4.05,9.24,4.09,9.26,4.13,9.28,3.95,9.32,4.20,9.35,4.04,
9.38,3.98,9.42,4.16,9.44,4.04,9.46,4.05,9.62,4.16,9.625,3.98,9.66,4.05,9.67,4.00,9.68,4.07,9.69,4.11,9.71,4.05,9.73,4.09,
9.77,4.20,9.79,4.20,9.77,4.02,9.84,3.93,9.86,3.98,9.87,4.02,9.92,3.95,10.03,4.07,10.05,4.00,10.06,3.98,10.10,4.09,
10.13,3.98,10.17,4.04,10.18,3.96,10.20,3.89,10.23,4.04,10.27,3.88,10.275,4.05,10.30,4.02,10.32,4.05,10.36,4.05,10.38,4.16,
10.44,4.14,10.46,4.07,10.48,4.04,10.50,3.89,10.51,4.16,10.52,4.04,10.56,3.98,10.61,4.04,10.67,4.04,10.69,4.05,10.71,4.05,
10.77,4.00,10.84,4.05,10.86,4.04,10.88,4.00,10.90,4.04,10.91,3.89,11.06,4.00,11.24,4.13];

const wb3 = [8.84,3.13,8.95,3.09,8.97,2.89,8.99,3.04,9.00,3.09,9.02,3.16,9.03,3.13,9.06,2.95,9.08,2.89,9.11,3.07,9.16,3.04,
9.20,3.04,9.24,3.13,9.27,3.09,9.30,2.98,9.32,3.16,9.36,3.04,9.42,2.91,9.44,3.00,9.50,3.16,9.51,3.00,9.55,3.04,9.56,2.95,
9.58,3.07,9.59,3.00,9.60,2.91,9.61,3.13,9.66,3.09,9.67,3.00,9.71,2.98,9.75,3.09,9.79,3.14,9.82,3.13,9.87,3.09,9.91,3.13,
9.99,2.98,10.03,2.93,10.05,2.91,10.15,3.16,10.14,3.00,10.145,2.93,10.27,3.16,10.26,2.95,10.36,2.95,10.42,3.13,10.43,2.98,
10.46,2.91,10.49,2.89,10.51,3.16,10.50,2.98,10.60,2.91,10.65,3.07,10.65,2.89,10.69,3.18,10.71,2.98,10.73,3.00,10.75,3.13,
10.77,3.13,10.79,2.98,10.80,2.98,10.86,3.11,10.87,3.00,10.89,3.00,10.99,3.09,11.23,3.00];

const wb2 = [8.45,2.11,8.74,2.18,8.80,2.05,8.84,2.05,9.05,2.11,9.11,2.05,9.13,2.07,9.12,2.00,9.10,1.91,9.18,2.02,9.20,2.14,
9.23,2.05,9.25,2.05,9.28,2.02,9.33,2.11,9.38,2.02,9.44,2.09,9.50,2.02,9.51,1.91,9.55,2.05,9.56,1.93,9.67,2.02,9.78,2.05,
9.80,2.02,9.795,2.11,9.86,2.05,9.90,2.11,9.93,2.14,9.95,2.02,9.955,1.96,10.00,2.09,10.04,2.05,10.17,2.14,10.15,1.96,
10.18,2.09,10.21,1.91,10.24,2.02,10.25,2.02,10.28,1.96,10.36,2.11,10.35,1.93,10.44,1.96,10.54,1.93,10.56,2.02,10.62,2.05,
10.63,2.11,10.67,1.96,10.69,2.11,10.69,1.93,10.68,1.91,10.77,2.14,10.77,2.05,10.84,2.02,10.85,2.09,10.94,2.14,10.99,2.14,
11.08,2.05];

const wb1 = [8.24,0.95,8.37,1.13,8.36,1.00,8.64,1.13,8.62,0.91,8.70,1.05,8.69,0.98,8.77,1.02,8.80,1.09,8.81,0.98,8.79,0.95,
8.87,0.95,8.90,0.95,8.89,1.16,8.91,1.18,8.90,1.13,8.99,1.02,9.01,1.07,9.03,1.18,9.06,1.04,9.07,1.00,9.08,1.11,9.09,1.09,
9.10,1.04,9.06,0.95,9.13,0.93,9.12,0.98,9.16,0.95,9.22,1.04,9.24,1.11,9.26,1.02,9.28,1.07,9.31,1.04,9.38,1.14,9.42,1.13,
9.49,1.02,9.50,0.86,9.51,1.07,9.55,1.05,9.57,1.07,9.59,1.04,9.56,1.11,9.62,0.95,9.65,1.05,9.66,1.02,9.69,1.20,9.71,1.16,
9.74,1.14,9.70,1.04,9.745,1.00,9.87,0.93,9.94,1.04,9.95,1.09,9.97,1.11,10.01,0.98,10.03,0.91,10.09,1.07,10.10,1.11,
10.11,1.02,10.13,1.02,10.17,1.13,10.18,1.07,10.21,0.91,10.23,1.16,10.24,1.11,10.26,1.04,10.265,0.98,10.28,1.14,10.29,1.09,
10.285,1.02,10.30,1.02,10.32,0.98,10.36,1.04,10.38,1.11,10.40,1.00,10.44,0.95,10.46,1.09,10.48,1.18,10.53,1.20,
10.71,1.11,10.73,1.16,10.75,1.07,10.76,1.04,10.77,1.16,10.79,1.11,10.80,0.98,10.81,1.16,10.82,1.07,10.835,1.04,10.84,0.96,
10.88,1.00,10.92,1.11,10.925,1.04,11.09,1.05,11.15,0.95,11.20,0.96];

// local polynomial smooth with 95% CI
const smoothX  = [7.95,8.05,8.15,8.25,8.35,8.45,8.55,8.65,8.75,8.85,8.95,9.05,9.15,9.25,9.35,9.45,9.55,9.65,9.75,9.85,9.95,10.1,10.3,10.5,10.7,10.9,11.1,11.33];
const smoothY  = [6.84,6.92,6.98,7.02,7.05,7.07,7.09,7.13,7.20,7.29,7.38,7.46,7.53,7.60,7.67,7.74,7.80,7.85,7.89,7.93,7.97,8.01,8.05,8.07,8.09,8.10,8.12,8.16];
const smoothSE = [0.49,0.41,0.34,0.28,0.23,0.19,0.16,0.13,0.12,0.12,0.12,0.12,0.11,0.10,0.09,0.09,0.08,0.08,0.07,0.07,0.06,0.06,0.05,0.05,0.05,0.06,0.07,0.08];

// ---------- CHART ----------
const svg = d3.select("#chart");
const x = d3.scaleLinear().domain([7.876, 12.073]).range([95, 1180]);
const y = d3.scaleLinear().domain([-0.32, 10.32]).range([608, 12]);

// grid
svg.append("g").selectAll("line").data(yTicks).join("line")
  .attr("x1", x.range()[0]).attr("x2", x.range()[1])
  .attr("y1", d => y(d)).attr("y2", d => y(d))
  .attr("stroke", "#e6e6e6").attr("stroke-width", 1.5);

// points
function toPoints(arr) {
  const out = [];
  for (let i = 0; i < arr.length; i += 2) out.push({ x: arr[i], y: arr[i + 1] });
  return out;
}
const rows = [wb1, wb2, wb3, wb4, wb5, wb5b, wb6, wb6b, wb7, wb7b, wb8, wb8b, wb9, wb9b, wb10, wb10b];
const pts = rows.flatMap(toPoints);
svg.append("g").selectAll("circle").data(pts).join("circle")
  .attr("cx", d => x(d.x)).attr("cy", d => y(d.y)).attr("r", 3.5)
  .attr("fill", "#1a8af5");

// CI band + smooth line
const sm = smoothX.map((v, i) => ({ x: v, y: smoothY[i], se: smoothSE[i] }));
svg.append("path").datum(sm)
  .attr("d", d3.area().x(d => x(d.x)).y0(d => y(d.y - d.se)).y1(d => y(d.y + d.se)).curve(d3.curveMonotoneX))
  .attr("fill", "#bfbfbf").attr("fill-opacity", 0.92);
svg.append("path").datum(sm)
  .attr("d", d3.line().x(d => x(d.x)).y(d => y(d.y)).curve(d3.curveMonotoneX))
  .attr("fill", "none").attr("stroke", "#8b1e22").attr("stroke-width", 2.2);

// axes
const xAxis = svg.append("g").attr("transform", `translate(0,${y.range()[0]})`)
  .call(d3.axisBottom(x).tickValues(xTicks).tickSize(12).tickSizeOuter(0).tickPadding(8).tickFormat(d3.format("d")));
const yAxis = svg.append("g").attr("transform", `translate(${x.range()[0]},0)`)
  .call(d3.axisLeft(y).tickValues(yTicks).tickSize(12).tickSizeOuter(0).tickFormat(d3.format("d")));
[xAxis, yAxis].forEach(g => {
  g.select(".domain").attr("stroke", "#3a3a3a").attr("stroke-width", 2);
  g.selectAll(".tick line").attr("stroke", "#3a3a3a").attr("stroke-width", 2);
  g.selectAll("text").style("font-size", "25px").attr("fill", "#111");
});
yAxis.selectAll(".tick text")
  .attr("x", null).attr("dy", null)
  .attr("text-anchor", "middle")
  .attr("transform", "translate(-29,0) rotate(-90)");

// titles
svg.append("text").attr("x", 643).attr("y", 684).attr("text-anchor", "middle")
  .style("font-size", "26px").text(xLabel);
svg.append("text").attr("transform", "translate(32,315) rotate(-90)").attr("text-anchor", "middle")
  .style("font-size", "26px").text(yLabel);
</script>
</body>
</html>
